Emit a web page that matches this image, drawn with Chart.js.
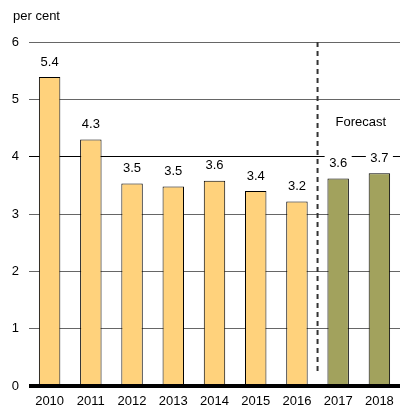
<!DOCTYPE html>
<html>
<head>
<meta charset="utf-8">
<script src="https://cdn.jsdelivr.net/npm/chart.js@4.4.1/dist/chart.umd.min.js"></script>
<style>
  html, body { margin: 0; padding: 0; background: #fff; }
  #wrap { width: 418px; height: 418px; position: relative; }
</style>
</head>
<body>
<div id="wrap"><canvas id="c" width="418" height="418"></canvas></div>
<script>
const categories = ['2010', '2011', '2012', '2013', '2014', '2015', '2016', '2017', '2018'];
const values = [5.39, 4.30, 3.53, 3.48, 3.58, 3.40, 3.22, 3.62, 3.71];
const forecastStart = '2017';
const yTicks = [0, 1, 2, 3, 4, 5, 6];
const unitLabel = 'per cent';
const forecastLabel = 'Forecast';

const FONT = '"Liberation Sans", Arial, sans-serif';
const firstForecast = categories.indexOf(forecastStart);

const labelPlugin = {
  id: 'labels',
  afterDatasetsDraw(chart) {
    const ctx = chart.ctx;
    const meta = chart.getDatasetMeta(0);
    ctx.save();
    ctx.font = '13px ' + FONT;
    ctx.textAlign = 'center';
    ctx.textBaseline = 'middle';
    meta.data.forEach((bar, i) => {
      const txt = values[i].toFixed(1);
      const w = ctx.measureText(txt).width + 9;
      const cy = bar.y - 15;
      ctx.fillStyle = '#fff';
      ctx.fillRect(bar.x - w / 2, cy - 8, w, 16);
      ctx.fillStyle = '#000';
      ctx.fillText(txt, bar.x, cy);
    });
    ctx.restore();
  },
  afterDraw(chart) {
    const ctx = chart.ctx;
    const xs = chart.scales.x, ys = chart.scales.y;
    const xDiv = (xs.getPixelForValue(firstForecast - 1) + xs.getPixelForValue(firstForecast)) / 2;
    ctx.save();
    ctx.strokeStyle = '#333';
    ctx.lineWidth = 2;
    ctx.setLineDash([5, 4]);
    ctx.beginPath();
    ctx.moveTo(xDiv, ys.getPixelForValue(6));
    ctx.lineTo(xDiv, ys.getPixelForValue(0.25));
    ctx.stroke();
    ctx.setLineDash([]);
    ctx.font = '13px ' + FONT;
    ctx.fillStyle = '#000';
    ctx.textBaseline = 'middle';
    ctx.textAlign = 'center';
    const fx = (xs.getPixelForValue(firstForecast) + xs.getPixelForValue(categories.length - 1)) / 2;
    ctx.fillText(forecastLabel, fx + 2, ys.getPixelForValue(4.6));
    ctx.textAlign = 'left';
    ctx.fillText(unitLabel, 13, 16);
    // thick zero line
    ctx.strokeStyle = '#000';
    ctx.lineWidth = 4;
    ctx.beginPath();
    ctx.moveTo(chart.chartArea.left, ys.getPixelForValue(0));
    ctx.lineTo(chart.chartArea.right, ys.getPixelForValue(0));
    ctx.stroke();
    ctx.restore();
  }
};

new Chart(document.getElementById('c'), {
  type: 'bar',
  data: {
    labels: categories,
    datasets: [{
      data: values,
      backgroundColor: (c) => c.dataIndex >= firstForecast ? '#A2A25D' : '#FFD27C',
      borderColor: '#000',
      borderWidth: 1,
      barPercentage: 0.52,
      categoryPercentage: 1
    }]
  },
  options: {
    responsive: false,
    animation: false,
    devicePixelRatio: 1,
    layout: { padding: { top: 42, right: 18, left: 0, bottom: 0 } },
    plugins: { legend: { display: false }, tooltip: { enabled: false } },
    scales: {
      x: {
        grid: { display: false, drawTicks: false },
        border: { display: false },
        ticks: { color: '#000', font: { family: FONT, size: 13 }, padding: 8, maxRotation: 0 },
        afterFit(s) { s.height = 32; }
      },
      y: {
        min: 0, max: 6,
        afterBuildTicks(s) { s.ticks = yTicks.map(v => ({ value: v })); },
        grid: {
          drawTicks: false,
          color: (c) => (c.tick && c.tick.value === 4) ? '#000' : '#666',
          lineWidth: 1
        },
        border: { display: false },
        ticks: { color: '#000', font: { family: FONT, size: 13 }, padding: 10 },
        afterFit(s) { s.width = 29; }
      }
    }
  },
  plugins: [labelPlugin]
});
</script>
</body>
</html>
